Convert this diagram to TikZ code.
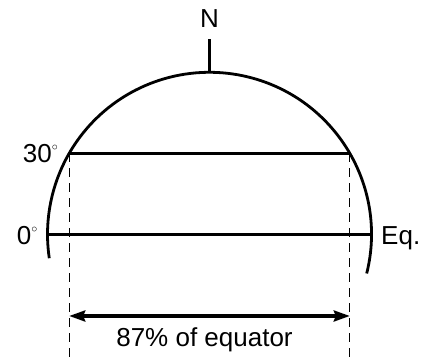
\documentclass[tikz,border=0pt]{standalone}
\usepackage{fontspec}
\setmainfont{Liberation Sans}
\usetikzlibrary{arrows.meta}
\tikzset{
	lbl/.style={inner sep=0pt,font=\fontsize{26}{31}\selectfont},
	guide/.style={line width=1.3pt,dash pattern=on 9pt off 6pt},
}
\newcommand{\dg}{\raisebox{12.5pt}{\fontsize{13}{13}\selectfont$\circ$}}
\begin{document}
\begin{tikzpicture}[x=1pt,y=1pt]
		\useasboundingbox (0,0) rectangle (431,358);
		%Globe: centre and points on the circle
		\coordinate (C) at (209.5,123.7);
		\coordinate (top) at ([shift={(90:162pt)}]C);
		\coordinate (eqL) at ([shift={(180:162pt)}]C);
		\coordinate (eqR) at ([shift={(0:162pt)}]C);
		\coordinate (latL) at ([shift={(150:162pt)}]C);
		\coordinate (latR) at ([shift={(30:162pt)}]C);
		\draw[line width=2.8pt] ([shift={(-14:162pt)}]C) arc[start angle=-14,end angle=188.5,radius=162pt];
		%Pole mark
		\draw[line width=2.6pt] (top)--++(0,33);
		\node[lbl,anchor=base] (lN) at (209.5,330) {N};
		%Equator and 30 degree circle
		\draw[line width=3.4pt] (eqL)--(eqR);
		\draw[line width=2.6pt] (latL)--(latR);
		\node[lbl,anchor=base east] (l30) at (58,195) {30\dg};
		\node[lbl,anchor=base east] (l0) at (37.5,113) {0\dg};
		\node[lbl,anchor=base west] (lEq) at (381,113) {Eq.};
		%Projection down to the width
		\foreach \s in {L,R}
		\draw[guide] (lat\s)--(lat\s |- 0,0);
		\coordinate (aL) at (latL |- 0,42);
		\coordinate (aR) at (latR |- 0,42);
		\draw[line width=3.2pt,{Stealth[length=16pt,width=11pt,inset=2pt]}-{Stealth[length=16pt,width=11pt,inset=2pt]}] (aL)--(aR);
		\node[lbl,anchor=base] (lPct) at (204.5,11) {87\% of equator};
\end{tikzpicture}
\end{document}
